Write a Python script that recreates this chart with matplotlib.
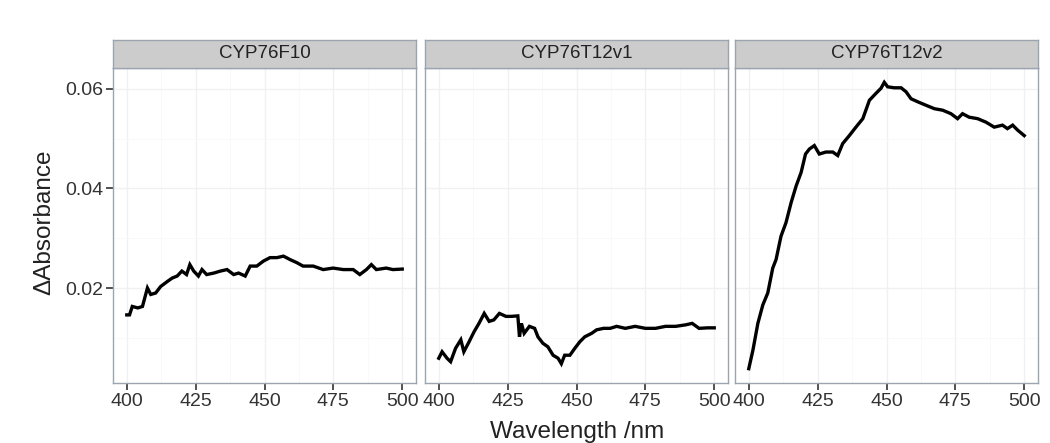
import matplotlib
matplotlib.use("Agg")
import matplotlib.pyplot as plt
import numpy as np

plt.rcParams['font.family'] = ['Liberation Sans', 'DejaVu Sans']

panels = ["CYP76F10", "CYP76T12v1", "CYP76T12v2"]

wl_f10 = [400, 401, 402, 404, 405.7, 407.5, 408.7, 410.5, 412.3, 414.7, 416.5, 418.3, 420, 421.7,
          422.9, 424.3, 426, 427.3, 429, 431.6, 434, 436.4, 438.8, 440.6, 443, 444.8, 447.2, 449.6,
          452, 454.5, 456.9, 459.3, 461.7, 464, 467.7, 471.3, 474.9, 478.6, 482.2, 484.6, 487,
          488.8, 490.6, 494.2, 496.6, 500]
ab_f10 = [0.0146, 0.0146, 0.0163, 0.0160, 0.0163, 0.0200, 0.0187, 0.0190, 0.0203, 0.0213, 0.0220,
          0.0224, 0.0234, 0.0227, 0.0247, 0.0234, 0.0224, 0.0237, 0.0227, 0.0230, 0.0234, 0.0237,
          0.0227, 0.0230, 0.0224, 0.0244, 0.0244, 0.0254, 0.0261, 0.0261, 0.0264, 0.0257, 0.0251,
          0.0244, 0.0244, 0.0237, 0.0240, 0.0237, 0.0237, 0.0227, 0.0237, 0.0247, 0.0237, 0.0240,
          0.0237, 0.0238]

wl_v1 = [400, 401.2, 403, 404.3, 406.1, 408, 409.1, 411, 412.8, 414.6, 416.5, 418.3, 420, 422,
         424.4, 426.2, 428.7, 429.3, 430, 431, 432.9, 434.8, 436, 437.8, 439.6, 441.5, 443.3,
         444.5, 445.7, 447.6, 449.4, 451.2, 453, 455.5, 457.3, 459.8, 462.2, 464.6, 467.7, 471.3,
         475, 478.7, 482.3, 486, 489.6, 492, 494.5, 497.6, 500]
ab_v1 = [0.0059, 0.0072, 0.0059, 0.0052, 0.0079, 0.0096, 0.0072, 0.0092, 0.0112, 0.0129, 0.0149,
         0.0133, 0.0136, 0.0149, 0.0143, 0.0143, 0.0144, 0.0102, 0.0129, 0.0109, 0.0123, 0.0119,
         0.0102, 0.0089, 0.0082, 0.0065, 0.0059, 0.0048, 0.0065, 0.0065, 0.0079, 0.0092, 0.0102,
         0.0109, 0.0116, 0.0119, 0.0119, 0.0123, 0.0119, 0.0123, 0.0119, 0.0119, 0.0123, 0.0123,
         0.0126, 0.0129, 0.0119, 0.0120, 0.0120]

wl_v2 = [400, 401.5, 403.3, 405.1, 406.9, 408.7, 409.9, 411.7, 413.5, 415.4, 417.2, 419, 420.6,
         422, 423.8, 425.6, 428, 430.5, 432.3, 434.1, 436.5, 438.9, 441.4, 443.8, 446.2, 448,
         449.2, 450.4, 452.8, 455.3, 457.1, 458.9, 461.3, 464.3, 467.4, 470.4, 473.4, 475.8,
         477.6, 480, 483.1, 486.1, 489.1, 492.1, 493.9, 495.8, 497.6, 500]
ab_v2 = [0.0038, 0.0075, 0.0129, 0.0166, 0.0190, 0.0240, 0.0257, 0.0304, 0.0331, 0.0372, 0.0405,
         0.0432, 0.0469, 0.0479, 0.0486, 0.0469, 0.0473, 0.0473, 0.0466, 0.0490, 0.0506, 0.0523,
         0.0540, 0.0577, 0.0591, 0.0601, 0.0613, 0.0604, 0.0602, 0.0602, 0.0594, 0.0580, 0.0574,
         0.0567, 0.0560, 0.0557, 0.0550, 0.0540, 0.0550, 0.0543, 0.0540, 0.0533, 0.0523, 0.0527,
         0.0520, 0.0527, 0.0517, 0.0506]

series = [(wl_f10, ab_f10), (wl_v1, ab_v1), (wl_v2, ab_v2)]
x_ticks = [400, 425, 450, 475, 500]
y_ticks = [0.02, 0.04, 0.06]
y_tick_labels = ["0.02", "0.04", "0.06"]

W, H = 1050, 443
fig = plt.figure(figsize=(W / 100, H / 100), dpi=100)

lefts = [113, 425, 735]
pw = 303
top_px, bot_px, strip_top = 68, 383, 40

allv = np.concatenate([np.asarray(a) for _, a in series])
rng = allv.max() - allv.min()
ylim = (allv.min() - 0.05 * rng, allv.max() + 0.05 * rng)

border_col = '#9BA5AF'
tick_col = '#333333'
for i, (name, (wl, ab)) in enumerate(zip(panels, series)):
    ax = fig.add_axes([lefts[i] / W, 1 - bot_px / H, pw / W, (bot_px - top_px) / H])
    ax.set_facecolor('white')
    ax.set_xlim(395, 505)
    ax.set_ylim(*ylim)
    ax.set_xticks(x_ticks)
    ax.set_xticks([412.5, 437.5, 462.5, 487.5], minor=True)
    ax.set_yticks(y_ticks)
    ax.set_yticks([0.01, 0.03, 0.05], minor=True)
    ax.grid(True, which='major', color='#F1F1F1', linewidth=1.0)
    ax.grid(True, which='minor', color='#F8F8F8', linewidth=0.6)
    ax.set_axisbelow(True)
    ax.plot(wl, ab, color='black', linewidth=2.4, solid_joinstyle='miter')
    for s in ax.spines.values():
        s.set_color(border_col)
        s.set_linewidth(1.0)
    ax.tick_params(axis='x', which='major', length=5, width=1.2, color=tick_col,
                   labelsize=14, labelcolor=tick_col, pad=2)
    ax.tick_params(which='minor', length=0)
    if i == 0:
        ax.set_yticklabels(y_tick_labels)
        ax.tick_params(axis='y', which='major', length=5, width=1.2, color=tick_col,
                       labelsize=14, labelcolor=tick_col, pad=2)
    else:
        ax.tick_params(axis='y', which='major', length=0, labelleft=False)

    sax = fig.add_axes([lefts[i] / W, 1 - top_px / H, pw / W, (top_px - strip_top) / H])
    sax.set_facecolor('#CCCCCC')
    sax.set_xticks([])
    sax.set_yticks([])
    for s in sax.spines.values():
        s.set_color(border_col)
        s.set_linewidth(1.0)
    sax.text(0.5, 0.5, name, ha='center', va='center', fontsize=13.5, color='#222222',
             transform=sax.transAxes)

fig.text(577 / W, 1 - 432 / H, "Wavelength /nm", ha='center', va='center', fontsize=17.5,
         color='#222222')
fig.text(44 / W, 1 - 222 / H, "\u0394Absorbance", ha='center', va='center', fontsize=17.5,
         rotation=90, color='#222222')

fig.savefig("out.png", dpi=100)
